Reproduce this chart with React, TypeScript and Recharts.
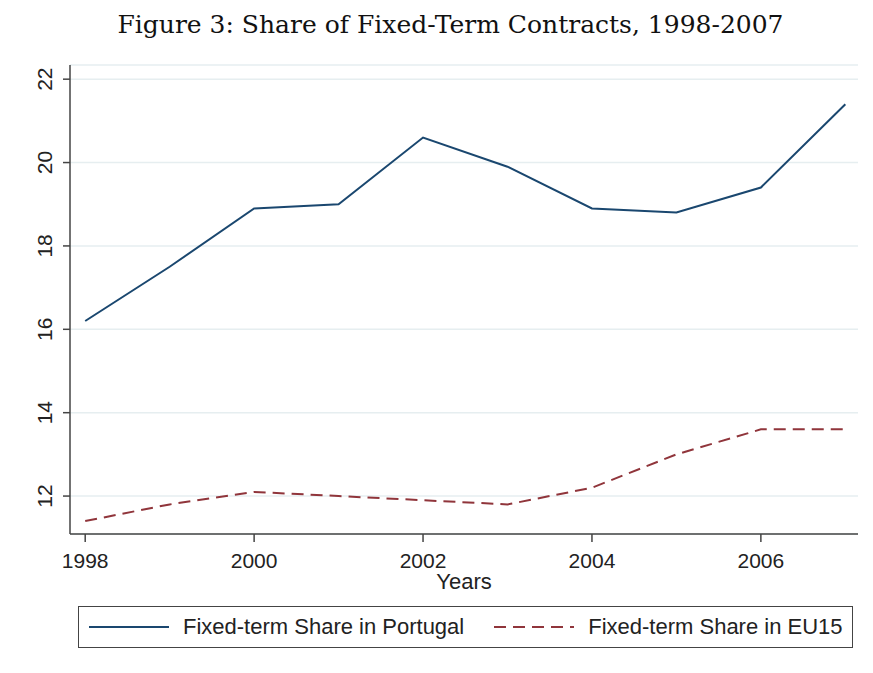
import React from "react";
import { LineChart, Line, XAxis, YAxis, CartesianGrid } from "recharts";

const years = [1998, 1999, 2000, 2001, 2002, 2003, 2004, 2005, 2006, 2007];
const portugal = [16.2, 17.5, 18.9, 19.0, 20.6, 19.9, 18.9, 18.8, 19.4, 21.4];
const eu15 = [11.4, 11.8, 12.1, 12.0, 11.9, 11.8, 12.2, 13.0, 13.6, 13.6];
const xTicks = [1998, 2000, 2002, 2004, 2006];
const yTicks = [12, 14, 16, 18, 20, 22];

const data = years.map((y, i) => ({ year: y, portugal: portugal[i], eu15: eu15[i] }));

const NAVY = "#1a476f";
const MAROON = "#90353b";
const FONT = "'Liberation Sans', Arial, sans-serif";

// y labels are rotated like in Stata
const YTick = (props: any) => {
  const { x, y, payload } = props;
  return (
    <g transform={`translate(${x - 11},${y}) rotate(-90)`}>
      <text textAnchor="middle" fill="#222" fontSize={21} fontFamily={FONT}>
        {payload.value}
      </text>
    </g>
  );
};

const renderYears = (props: any) => {
  const vb = props.viewBox || {};
  return (
    <text
      x={vb.x + vb.width / 2}
      y={vb.y + 55}
      textAnchor="middle"
      fill="#222"
      fontSize={22}
      fontFamily={FONT}
    >
      Years
    </text>
  );
};

export default function App() {
  return (
    <div
      style={{
        position: "absolute",
        left: 0,
        top: 0,
        width: 873,
        height: 673,
        background: "#fff",
      }}
    >
      <div
        style={{
          position: "absolute",
          top: 10,
          left: 14,
          width: 873,
          textAlign: "center",
          fontFamily: "'DejaVu Serif', serif",
          fontSize: 25,
          color: "#111",
        }}
      >
        Figure 3: Share of Fixed-Term Contracts, 1998-2007
      </div>
      <LineChart
        width={873}
        height={673}
        data={data}
        margin={{ top: 65, right: 15, left: 0, bottom: 0 }}
      >
        <CartesianGrid vertical={false} stroke="#e6eef0" strokeWidth={1.5} />
        <XAxis
          dataKey="year"
          type="number"
          domain={[1997.82, 2007.15]}
          ticks={xTicks}
          height={139}
          tickSize={8}
          tickMargin={11}
          tick={{ fill: "#222", fontSize: 21, fontFamily: FONT }}
          stroke="#444"
          strokeWidth={1.5}
          label={renderYears}
        />
        <YAxis
          type="number"
          domain={[11.09, 22.34]}
          ticks={yTicks}
          width={70}
          tickSize={7}
          tickMargin={0}
          tick={<YTick />}
          stroke="#444"
          strokeWidth={1.5}
        />
        <Line
          dataKey="portugal"
          stroke={NAVY}
          strokeWidth={2}
          dot={false}
          isAnimationActive={false}
        />
        <Line
          dataKey="eu15"
          stroke={MAROON}
          strokeWidth={2}
          strokeDasharray="12 7"
          dot={false}
          isAnimationActive={false}
        />
      </LineChart>
      <div
        style={{
          position: "absolute",
          left: 78,
          top: 606,
          width: 773,
          height: 40,
          border: "1.5px solid #444",
          fontFamily: FONT,
          fontSize: 22,
          color: "#222",
          display: "flex",
          alignItems: "center",
        }}
      >
        <svg width={80} height={10} style={{ marginLeft: 10 }}>
          <line x1={0} y1={5} x2={80} y2={5} stroke={NAVY} strokeWidth={2} />
        </svg>
        <span style={{ marginLeft: 14 }}>Fixed-term Share in Portugal</span>
        <svg width={80} height={10} style={{ marginLeft: 30 }}>
          <line
            x1={0}
            y1={5}
            x2={80}
            y2={5}
            stroke={MAROON}
            strokeWidth={2}
            strokeDasharray="12 7"
          />
        </svg>
        <span style={{ marginLeft: 14 }}>Fixed-term Share in EU15</span>
      </div>
    </div>
  );
}
